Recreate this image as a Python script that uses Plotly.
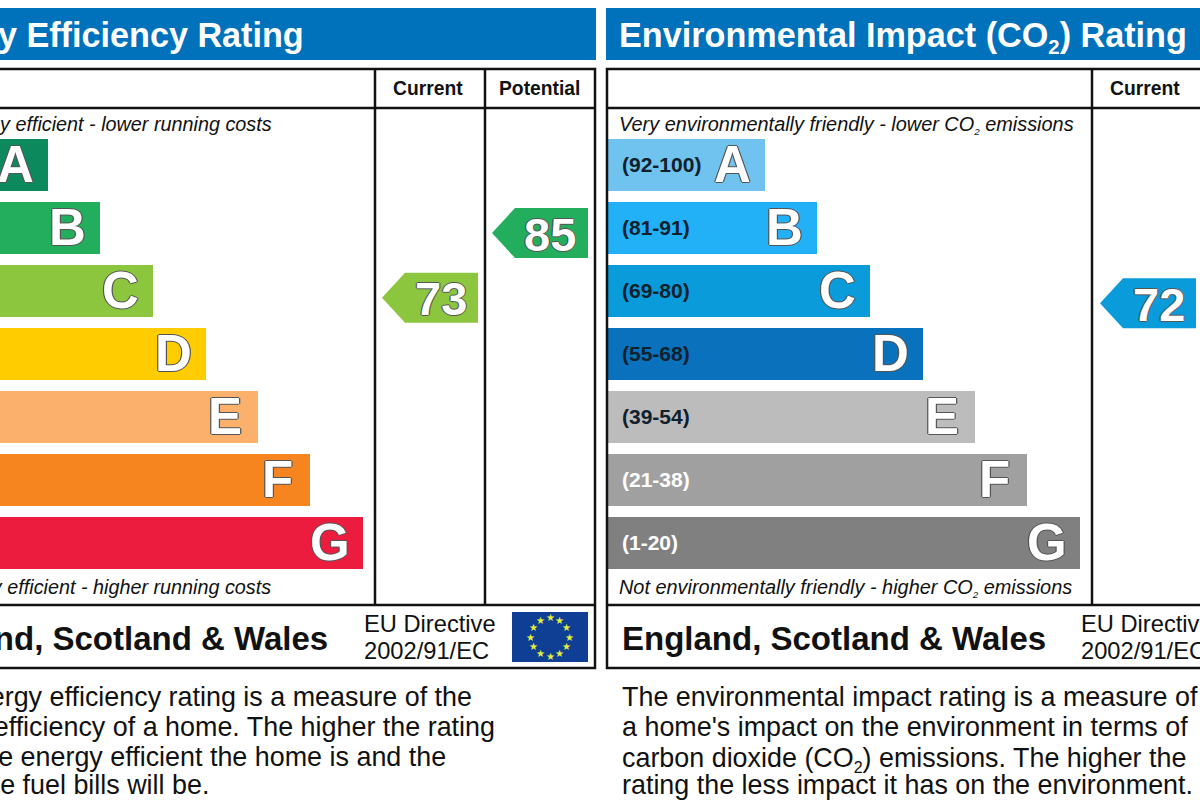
import math
import plotly.graph_objects as go

# --- data ---
bands = ["A", "B", "C", "D", "E", "F", "G"]
bar_lengths = [157, 209, 262, 315, 367, 419, 472]
energy_colors = ["#0c8a5d", "#22ae5c", "#8cc63f", "#ffcc00", "#fbb06b", "#f6851f", "#ec1c3e"]
co2_colors = ["#6fc3ee", "#22b0f6", "#0a9bdb", "#0a71bd", "#bcbcbc", "#a0a0a0", "#808080"]
co2_ranges = ["(92-100)", "(81-91)", "(69-80)", "(55-68)", "(39-54)", "(21-38)", "(1-20)"]
energy_current, energy_potential, co2_current = 73, 85, 72

FONT = "Liberation Sans"
BLUE = "#0071bb"
OUT = "1.2px 0 #555, -1.2px 0 #555, 0 1.2px #555, 0 -1.2px #555"
W, H = 1200, 800
L0 = -109   # pixel where the left panel's bars start
R0 = 608    # pixel where the right panel's bars start
Y_TOP, BAND = 132.5, 63
R_PER_PX = 5.4
R_TOP = 85 + 233 / R_PER_PX


def xl(px):
    return px - L0


def xr(px):
    return px - R0


fig = go.Figure()
for xaxis, colors in (("x", energy_colors), ("x2", co2_colors)):
    fig.add_trace(go.Bar(y=bands, x=bar_lengths, orientation="h", xaxis=xaxis, yaxis="y",
                         marker=dict(color=colors, line=dict(width=0)), showlegend=False,
                         hoverinfo="skip", width=52 / 63))

shapes = []
annots = []

rating_marks = (("x", xl(441), xl(478), energy_current, energy_colors[2]),
                ("x", xl(550), xl(588), energy_potential, energy_colors[1]),
                ("x2", xr(1159), xr(1196), co2_current, co2_colors[2]))
for xaxis, xc, xe, r, c in rating_marks:
    # invisible anchor keeps the rating axis bound to the values
    fig.add_trace(go.Scatter(x=[xc], y=[r], mode="markers", xaxis=xaxis, yaxis="y3",
                             marker=dict(size=1, opacity=0), showlegend=False, hoverinfo="skip"))
    shapes.append(dict(type="path", xref=xaxis, yref="y3", xsizemode="pixel", ysizemode="pixel",
                       xanchor=xe, yanchor=r, path="M -96,0 L -73,25 L 0,25 L 0,-25 L -73,-25 Z",
                       fillcolor=c, line=dict(width=0), layer="between"))
    annots.append(dict(xref=xaxis, yref="y3", x=xc, y=r, text="<b>" + str(r) + "</b>", showarrow=False,
                       xanchor="center", yanchor="middle", borderpad=0, yshift=-1,
                       font=dict(family=FONT, size=47, color="white", shadow=OUT)))


def py(y):
    return 1 - y / H


def rect(x0, y0, x1, y1, fill=None, line=None, lw=0):
    shapes.append(dict(type="rect", xref="paper", yref="paper", x0=x0 / W, x1=x1 / W, y0=py(y0), y1=py(y1),
                       fillcolor=fill or "rgba(0,0,0,0)", line=dict(color=line or "rgba(0,0,0,0)", width=lw),
                       layer="above" if fill is None else "below"))


def vline(x, y0, y1):
    shapes.append(dict(type="line", xref="paper", yref="paper", x0=x / W, x1=x / W, y0=py(y0), y1=py(y1),
                       line=dict(color="#111", width=2.5), layer="above"))


def hline(x0, x1, y):
    shapes.append(dict(type="line", xref="paper", yref="paper", x0=x0 / W, x1=x1 / W, y0=py(y), y1=py(y),
                       line=dict(color="#111", width=2.5), layer="above"))


def text(x, y, s, size, anchor="left", color="#111", bold=False, italic=False):
    if bold:
        s = "<b>" + s + "</b>"
    if italic:
        s = "<i>" + s + "</i>"
    annots.append(dict(xref="paper", yref="paper", x=x / W, y=py(y), text=s, showarrow=False,
                       xanchor=anchor, yanchor="middle", borderpad=0, borderwidth=0,
                       font=dict(family=FONT, size=size, color=color)))


# panel frames and headers
for x0, x1 in ((-110, 595), (607, 1312)):
    rect(x0 - 1, 8, x1 + 1, 60, fill=BLUE)
    rect(x0, 69, x1, 668, line="#111", lw=2.5)
    hline(x0, x1, 108)
    hline(x0, x1, 605)
    vline(x1 - 220, 69, 605)
    vline(x1 - 110, 69, 605)

# flag
rect(512, 612, 588, 662, fill="#0f3f94")
for i in range(12):
    a = math.radians(30 * i)
    annots.append(dict(xref="paper", yref="paper", x=(550 + 19.5 * math.sin(a)) / W,
                       y=py(637 - 19.5 * math.cos(a)), text="★", showarrow=False,
                       font=dict(family="DejaVu Sans", size=10, color="#e6f03c"),
                       xanchor="center", yanchor="middle", borderpad=0))

# band letters and ranges
for xaxis in ("x", "x2"):
    for b, v in zip(bands, bar_lengths):
        annots.append(dict(xref=xaxis, yref="y", x=v, y=b, text="<b>" + b + "</b>", showarrow=False,
                           xshift=-33, xanchor="center", yanchor="middle", borderpad=0,
                           font=dict(family=FONT, size=51, color="white", shadow=OUT)))
for b, t in zip(bands, co2_ranges):
    annots.append(dict(xref="x2", yref="y", x=xr(621), y=b, text="<b>" + t + "</b>", showarrow=False,
                       xanchor="left", yanchor="middle", borderpad=0,
                       font=dict(family=FONT, size=21, color="white" if b in "FG" else "#10202c")))

# titles
SUB2 = '<sub><span style="font-size:70%">2</span></sub>'
SUB2B = '<sub><span style="font-size:85%">2</span></sub>'
text(304, 35, "Energy Efficiency Rating", 34.2, "right", "white", bold=True)
text(619, 37, "Environmental Impact (CO" + SUB2B + ") Rating", 34.2, "left", "white", bold=True)
for x, s in ((428, "Current"), (539, "Potential"), (1145, "Current")):
    text(x, 89, s, 19.3, "center", bold=True)
text(272, 124, "Very energy efficient - lower running costs", 19.8, "right", italic=True)
text(271, 587, "Not energy efficient - higher running costs", 19.8, "right", italic=True)
text(619, 125, "Very environmentally friendly - lower CO" + SUB2 + " emissions", 19.9, italic=True)
text(619, 588, "Not environmentally friendly - higher CO" + SUB2 + " emissions", 19.9, italic=True)
text(328, 638, "England, Scotland & Wales", 33, "right", bold=True)
text(622, 638, "England, Scotland & Wales", 33, bold=True)
for x in (364, 1081):
    text(x, 624, "EU Directive", 23.7)
    text(x, 651, "2002/91/EC", 23.7)

left_par = ["The energy efficiency rating is a measure of the",
            "overall efficiency of a home. The higher the rating",
            "the more energy efficient the home is and the",
            "lower the fuel bills will be."]
left_right_edges = [472, 495, 446, 209]
right_par = ["The environmental impact rating is a measure of",
             "a home's impact on the environment in terms of",
             "carbon dioxide (CO" + SUB2B + ") emissions. The higher the",
             "rating the less impact it has on the environment."]
right_offsets = [0, 0, 2, 0]
for y, s, e, t, d in zip((697, 727, 757, 785), left_par, left_right_edges, right_par, right_offsets):
    text(e, y, s, 26.9, "right")
    text(622, y + d, t, 26.9)

hidden = dict(visible=False, fixedrange=True)
fig.update_layout(
    width=W, height=H, margin=dict(l=0, r=0, t=0, b=0),
    paper_bgcolor="white", plot_bgcolor="rgba(0,0,0,0)", showlegend=False, bargap=0,
    xaxis=dict(domain=[0, 0.5], range=[xl(0), xl(600)], anchor="y", **hidden),
    xaxis2=dict(domain=[0.5, 1], range=[xr(600), xr(1200)], anchor="y", **hidden),
    yaxis=dict(domain=[py(Y_TOP + BAND * 7), py(Y_TOP)], type="category", categoryorder="array",
               categoryarray=bands, range=[6.5, -0.5], anchor="x", **hidden),
    yaxis3=dict(domain=[0, 1], range=[R_TOP - H / R_PER_PX, R_TOP], anchor="x", **hidden),
    shapes=shapes, annotations=annots,
)
fig.write_html("out.html", config={"displayModeBar": False},
               post_script="document.body.style.margin='0';")
